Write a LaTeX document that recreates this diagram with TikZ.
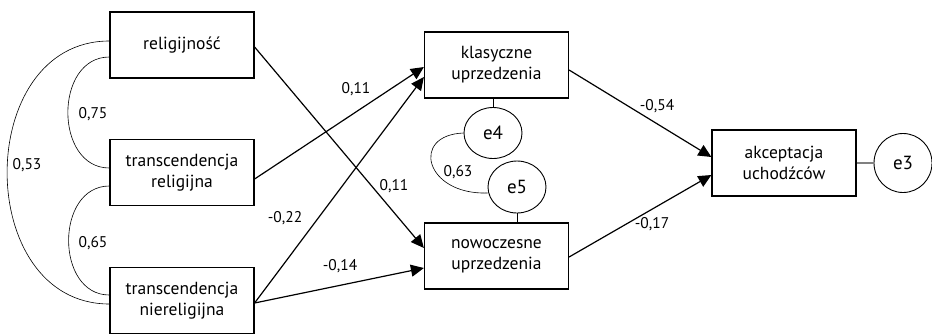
\documentclass[tikz,border=0pt]{standalone}
\usepackage{fontspec}
\setmainfont{PT Sans}
\usetikzlibrary{arrows.meta,shapes.geometric}
\begin{document}
\begin{tikzpicture}[x=1pt,y=-1pt,
  box/.style={draw,line width=1.2pt,minimum width=144pt,minimum height=66pt,inner sep=0pt,align=center,font=\fontsize{17.5}{21}\selectfont},
  err/.style={draw,line width=0.9pt,ellipse,inner sep=0pt,font=\fontsize{19}{21}\selectfont},
  path/.style={line width=1.2pt,-{Triangle[length=13pt,width=12pt]}},
  cov/.style={line width=0.6pt},
  lab/.style={font=\fontsize{15.5}{17}\selectfont,inner sep=0pt}]
\useasboundingbox (0,0) rectangle (932,333);
\node[box] (rel) at (182,45) {religijność};
\node[box] (trel) at (182,172.5) {transcendencja\\religijna};
\node[box] (tnrel) at (182,300.5) {transcendencja\\niereligijna};
\node[box] (klas) at (496.5,65) {klasyczne\\uprzedzenia};
\node[box] (now) at (496.5,256) {nowoczesne\\uprzedzenia};
\node[box] (akc) at (784,163) {akceptacja\\uchodźców};
\node[err,minimum width=58pt,minimum height=59pt] (e3) at (903,163) {e3};
\node[err,minimum width=58pt,minimum height=51pt] (e4) at (493,133) {e4};
\node[err,minimum width=58pt,minimum height=52pt] (e5) at (517,187) {e5};
% error links
\draw[line width=0.9pt] ([xshift=-3.5pt]klas.south) -- (e4.north);
\draw[line width=0.9pt] ([xshift=20.5pt]now.north) -- (e5.south);
\draw[line width=1.2pt,gray] (akc.east) -- (e3.west);
% covariances
\draw[cov] ([yshift=-12pt]rel.west) .. controls (54,57) and (54,168) .. ([yshift=4.5pt]trel.west);
\draw[cov] ([yshift=-13.5pt]trel.west) .. controls (55,186) and (55,295) .. ([yshift=5.5pt]tnrel.west);
\draw[cov] ([yshift=4pt]rel.west) .. controls (-27,41) and (-27,304) .. ([yshift=-3.5pt]tnrel.west);
\draw[cov] (e4.west) .. controls (410,135) and (425,195) .. ([yshift=-6pt]e5.west);
% paths
\draw[path] ([yshift=-2pt]rel.east) -- ([yshift=8pt]now.west);
\draw[path] ([yshift=-6.5pt]trel.east) -- ([yshift=-2pt]klas.west);
\draw[path] ([yshift=-2.5pt]tnrel.east) -- ([yshift=-12pt]klas.west);
\draw[path] ([yshift=-2.5pt]tnrel.east) -- ([yshift=-12pt]now.west);
\draw[path] ([yshift=-5pt]klas.east) -- ([yshift=6pt]akc.west);
\draw[path] ([yshift=-1pt]now.east) -- ([yshift=-12pt]akc.west);
% labels
\node[lab] (l75) at (93,114) {0,75};
\node[lab] (l65) at (93,243) {0,65};
\node[lab] (l53) at (27,165) {0,53};
\node[lab] (l63) at (458,172) {0,63};
\node[lab] (l11a) at (356,89) {0,11};
\node[lab] (l11b) at (394,186) {0,11};
\node[lab] (l22) at (285,218) {-0,22};
\node[lab] (l14) at (340,266) {-0,14};
\node[lab] (l54) at (657,106) {-0,54};
\node[lab] (l17) at (652,224) {-0,17};
\end{tikzpicture}
\end{document}
